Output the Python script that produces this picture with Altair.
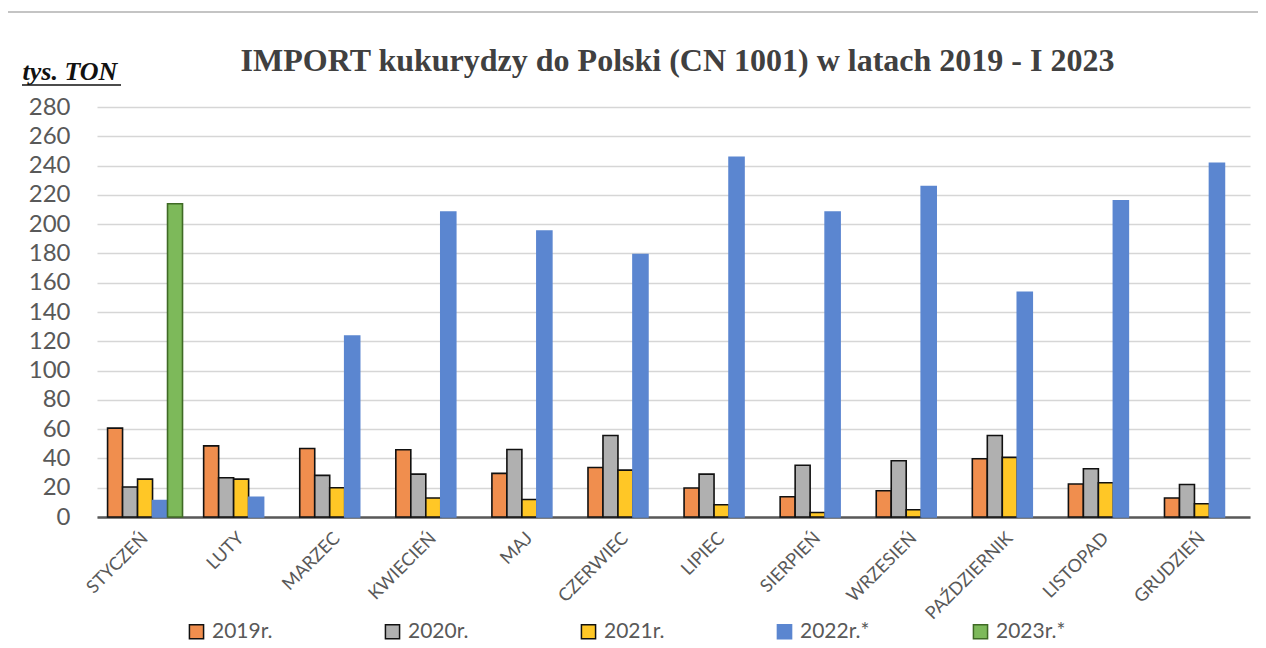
import altair as alt
import pandas as pd

months = ["STYCZEŃ", "LUTY", "MARZEC", "KWIECIEŃ", "MAJ", "CZERWIEC", "LIPIEC",
          "SIERPIEŃ", "WRZESIEŃ", "PAŹDZIERNIK", "LISTOPAD", "GRUDZIEŃ"]
series = ["2019r.", "2020r.", "2021r.", "2022r.*", "2023r.*"]
v2019 = [60.7, 48.6, 46.8, 45.9, 29.8, 33.8, 19.8, 13.8, 17.9, 39.8, 22.5, 13.0]
v2020 = [20.5, 26.8, 28.4, 29.3, 46.1, 55.7, 29.3, 35.3, 38.4, 55.7, 33.0, 22.2]
v2021 = [25.9, 25.9, 20.0, 13.0, 12.0, 32.0, 8.4, 3.1, 5.0, 40.7, 23.4, 9.1]
v2022 = [11.3, 13.4, 123.6, 208.2, 195.2, 179.3, 245.6, 208.2, 225.6, 153.4, 215.9, 241.6]
v2023 = [213.9, None, None, None, None, None, None, None, None, None, None, None]
y_ticks = list(range(0, 281, 20))

fills = ["#F08E4E", "#B0B0B0", "#FFC726", "#5B86D0", "#7DB95A"]
strokes = ["#111111", "#111111", "#111111", "#5B86D0", "#3F6A25"]

rows = []
for s, vals in zip(series, [v2019, v2020, v2021, v2022, v2023]):
    for m, v in zip(months, vals):
        if v is not None:
            rows.append({"miesiac": m, "rok": s, "wartosc": v})
df = pd.DataFrame(rows)

FONT = "Lato"
GRAY = "#595959"

legend = alt.Legend(
    title=None, orient="none", direction="horizontal", legendX=89, legendY=514,
    columns=5, gridAlign="all", columnPadding=100, symbolType="square", symbolSize=200,
    symbolStrokeWidth=1.5, labelFont=FONT, labelFontSize=21, labelColor=GRAY,
    labelOffset=5, padding=0,
)

bars = alt.Chart(df).mark_bar(strokeWidth=1.6).encode(
    x=alt.X("miesiac:N", sort=months, title=None,
            scale=alt.Scale(paddingInner=0.22, paddingOuter=0.11),
            axis=alt.Axis(labelAngle=-45, labelFont=FONT, labelFontSize=18,
                          labelColor=GRAY, ticks=False, domainColor="#595959",
                          domainWidth=2.5, labelPadding=12, labelOffset=-6, grid=False)),
    xOffset=alt.XOffset("rok:N", sort=series, scale=alt.Scale(domain=series, paddingInner=0)),
    y=alt.Y("wartosc:Q", title="tys. TON",
            scale=alt.Scale(domain=[0, 280], nice=False),
            axis=alt.Axis(values=y_ticks, labelFont=FONT, labelFontSize=24,
                          labelColor=GRAY, ticks=False, domain=False, labelPadding=27,
                          gridColor="#D6D6D6", gridWidth=1.5,
                          titleAngle=0, titleX=-75, titleY=-28, titleAlign="left",
                          titleBaseline="alphabetic", titleFont="Liberation Serif",
                          titleFontSize=26, titleFontStyle="italic", titleFontWeight="bold",
                          titleColor="#111111")),
    fill=alt.Fill("rok:N", sort=series, scale=alt.Scale(domain=series, range=fills), legend=legend),
    stroke=alt.Stroke("rok:N", sort=series, scale=alt.Scale(domain=series, range=strokes), legend=legend),
)

underline = alt.Chart(pd.DataFrame({"u": [0]})).mark_rule(color="#111111", strokeWidth=1.5).encode(
    x=alt.value(-75), x2=alt.value(24), y=alt.value(-22)
)

frame_top = alt.Chart(pd.DataFrame({"u": [0]})).mark_rule(color="#C4C4C4", strokeWidth=2).encode(
    x=alt.value(-89), x2=alt.value(1161), y=alt.value(-95)
)

chart = alt.layer(bars, underline, frame_top).properties(
    width=1153, height=410,
    autosize=alt.AutoSizeParams(type="none"),
    padding={"left": 89, "top": 99, "right": 8, "bottom": 131},
    title=alt.TitleParams(
        "IMPORT kukurydzy do Polski (CN 1001) w latach 2019 - I 2023",
        font="Liberation Serif", fontSize=32, fontWeight="bold", color="#404040",
        anchor="middle", frame="group", offset=-67, dx=4,
    ),
).configure_view(stroke=None)

chart.save("out.html", embed_options={"renderer": "svg", "actions": False})
